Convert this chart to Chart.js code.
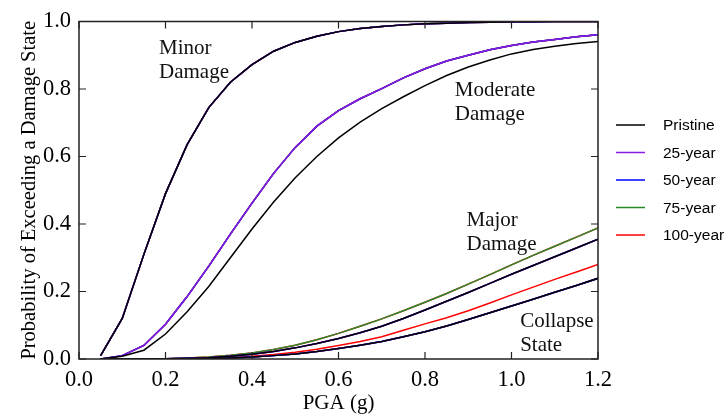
<!DOCTYPE html>
<html>
<head>
<meta charset="utf-8">
<script src="https://cdn.jsdelivr.net/npm/chart.js@4.4.1/dist/chart.umd.min.js"></script>
<style>
  html, body { margin: 0; padding: 0; background: #fff; }
  #wrap { width: 728px; height: 419px; }
</style>
</head>
<body>
<div id="wrap"><canvas id="fragilityChart"></canvas></div>
<script>
// PGA values (g) where the curves were sampled
const pga = [0.05, 0.10, 0.15, 0.20, 0.25, 0.30, 0.35, 0.40, 0.45, 0.50, 0.55, 0.60,
             0.65, 0.70, 0.75, 0.80, 0.85, 0.90, 0.95, 1.00, 1.05, 1.10, 1.15, 1.20];

// minor damage - same for every scenario
const minor = [0.01, 0.12, 0.31, 0.49, 0.635, 0.745, 0.82, 0.872, 0.912, 0.938, 0.956, 0.97,
               0.979, 0.985, 0.99, 0.993, 0.995, 0.997, 0.998, 0.999, 0.999, 1.0, 1.0, 1.0];

// moderate damage
const moderatePristine = [0, 0.008, 0.026, 0.074, 0.14, 0.215, 0.30, 0.385, 0.465, 0.537, 0.60, 0.655,
                          0.702, 0.742, 0.777, 0.81, 0.84, 0.865, 0.886, 0.904, 0.917, 0.927, 0.935, 0.941];
const moderateAged = [0, 0.01, 0.04, 0.103, 0.185, 0.275, 0.37, 0.462, 0.55, 0.627, 0.69, 0.736,
                      0.771, 0.801, 0.833, 0.86, 0.883, 0.90, 0.916, 0.929, 0.939, 0.947, 0.955, 0.961];

// major damage
const majorBase = [0, 0, 0, 0.001, 0.002, 0.004, 0.008, 0.014, 0.022, 0.033, 0.046, 0.061,
                   0.078, 0.097, 0.12, 0.145, 0.171, 0.197, 0.224, 0.251, 0.277, 0.303, 0.329, 0.355];
const majorLate = [0, 0, 0.0005, 0.001, 0.003, 0.006, 0.011, 0.018, 0.028, 0.041, 0.057, 0.076,
                   0.097, 0.119, 0.143, 0.168, 0.194, 0.222, 0.25, 0.279, 0.307, 0.334, 0.361, 0.388];

// collapse state
const collapseBase = [0, 0, 0, 0, 0.0005, 0.001, 0.003, 0.006, 0.01, 0.015, 0.022, 0.031,
                      0.041, 0.052, 0.066, 0.081, 0.098, 0.117, 0.137, 0.157, 0.177, 0.198, 0.218, 0.239];
const collapse100 = [0, 0, 0, 0, 0.001, 0.002, 0.004, 0.008, 0.013, 0.02, 0.029, 0.04,
                     0.052, 0.066, 0.085, 0.104, 0.122, 0.143, 0.166, 0.19, 0.213, 0.236, 0.258, 0.28];

const scenarios = ['Pristine', '25-year', '50-year', '75-year', '100-year'];
const scenarioColors = ['#000000', '#8a1be0', '#0000ff', '#2a8a2a', '#ff0000'];

// curves of each scenario: minor, moderate, major, collapse
const scenarioCurves = [
  [minor, moderatePristine, majorBase, collapseBase],
  [minor, moderateAged, majorBase, collapseBase],
  [minor, moderateAged, majorBase, collapseBase],
  [minor, moderateAged, majorLate, collapseBase],
  [minor, moderateAged, majorLate, collapse100]
];

const xTicks = [0, 0.2, 0.4, 0.6, 0.8, 1.0, 1.2];
const yTicks = [0, 0.2, 0.4, 0.6, 0.8, 1.0];

// damage state captions (left edge and first baseline in data units)
const stateLabels = [
  { lines: ['Minor', 'Damage'], x: 0.185, y: 0.905 },
  { lines: ['Moderate', 'Damage'], x: 0.869, y: 0.78 },
  { lines: ['Major', 'Damage'], x: 0.896, y: 0.395 },
  { lines: ['Collapse', 'State'], x: 1.02, y: 0.094 }
];

const serif = "'Liberation Serif', 'Times New Roman', serif";

var datasets = [];
scenarios.forEach(function(name, i) {
  scenarioCurves[i].forEach(function(curve, k) {
    datasets.push({
      label: name,
      data: pga.map(function(x, j) { return { x: x, y: curve[j] }; }),
      borderColor: scenarioColors[i],
      backgroundColor: scenarioColors[i],
      borderWidth: 1.5,
      pointRadius: 0,
      tension: 0,
      fill: false,
      inLegend: k === 0
    });
  });
});

// box around the plot with inward tick marks
const framePlugin = {
  id: 'frame',
  afterDatasetsDraw(chart) {
    const ctx = chart.ctx;
    const a = chart.chartArea;
    const xs = chart.scales.x, ys = chart.scales.y;
    const len = 7;
    ctx.save();
    ctx.strokeStyle = '#222';
    ctx.lineWidth = 1.5;
    ctx.strokeRect(a.left, a.top, a.right - a.left, a.bottom - a.top);
    ctx.lineWidth = 1.2;
    ctx.beginPath();
    xTicks.forEach(function(v) {
      const px = xs.getPixelForValue(v);
      ctx.moveTo(px, a.bottom); ctx.lineTo(px, a.bottom - len);
      ctx.moveTo(px, a.top); ctx.lineTo(px, a.top + len);
    });
    yTicks.forEach(function(v) {
      const py = ys.getPixelForValue(v);
      ctx.moveTo(a.left, py); ctx.lineTo(a.left + len, py);
      ctx.moveTo(a.right, py); ctx.lineTo(a.right - len, py);
    });
    ctx.stroke();
    ctx.restore();
  }
};

// captions for each damage state
const captionPlugin = {
  id: 'captions',
  afterDatasetsDraw(chart) {
    const ctx = chart.ctx;
    const xs = chart.scales.x, ys = chart.scales.y;
    ctx.save();
    ctx.fillStyle = '#111';
    ctx.font = '21px ' + serif;
    ctx.textAlign = 'left';
    ctx.textBaseline = 'alphabetic';
    stateLabels.forEach(function(lab) {
      const px = xs.getPixelForValue(lab.x);
      const py = ys.getPixelForValue(lab.y);
      lab.lines.forEach(function(t, n) {
        ctx.fillText(t, px, py + n * 24);
      });
    });
    ctx.restore();
  }
};

// legend to the right of the plot
const legendPlugin = {
  id: 'sideLegend',
  afterDraw(chart) {
    const ctx = chart.ctx;
    const a = chart.chartArea;
    const x0 = a.right + 18;
    let y = 125;
    ctx.save();
    ctx.font = "15.5px 'Liberation Sans', Arial, sans-serif";
    ctx.textBaseline = 'middle';
    ctx.textAlign = 'left';
    chart.data.datasets.forEach(function(ds) {
      if (!ds.inLegend) return;
      ctx.strokeStyle = ds.borderColor;
      ctx.lineWidth = 1.5;
      ctx.beginPath();
      ctx.moveTo(x0, y);
      ctx.lineTo(x0 + 29, y);
      ctx.stroke();
      ctx.fillStyle = '#000';
      ctx.fillText(ds.label, x0 + 47, y + 1);
      y += 27.5;
    });
    ctx.restore();
  }
};

const ctx = document.getElementById('fragilityChart').getContext('2d');
new Chart(ctx, {
  type: 'line',
  data: { datasets: datasets },
  options: {
    responsive: true,
    maintainAspectRatio: false,
    animation: false,
    layout: { padding: { top: 14, right: 130, left: 0, bottom: 0 } },
    plugins: {
      legend: { display: false },
      tooltip: { enabled: false }
    },
    scales: {
      x: {
        type: 'linear',
        min: 0,
        max: 1.2,
        afterFit: function(s) { s.height = 60; },
        afterBuildTicks: function(s) { s.ticks = xTicks.map(function(v) { return { value: v }; }); },
        grid: { display: false, drawTicks: false },
        border: { display: false },
        ticks: {
          padding: 8,
          color: '#000',
          font: { family: serif, size: 22.5 },
          maxRotation: 0,
          callback: function(v) { return Number(v).toFixed(1); }
        },
        title: {
          display: true,
          text: 'PGA (g)',
          color: '#000',
          font: { family: serif, size: 21 },
          padding: { top: 0, bottom: 3 }
        }
      },
      y: {
        min: 0,
        max: 1,
        afterFit: function(s) { s.width = 79; },
        afterBuildTicks: function(s) { s.ticks = yTicks.map(function(v) { return { value: v }; }); },
        grid: { display: false, drawTicks: false },
        border: { display: false },
        ticks: {
          padding: 8,
          color: '#000',
          font: { family: serif, size: 22.5 },
          callback: function(v) { return Number(v).toFixed(1); }
        },
        title: {
          display: true,
          text: 'Probability of Exceeding a Damage State',
          color: '#000',
          font: { family: serif, size: 20.5 },
          padding: { top: 17, bottom: 0 }
        }
      }
    }
  },
  plugins: [framePlugin, captionPlugin, legendPlugin]
});
</script>
</body>
</html>
